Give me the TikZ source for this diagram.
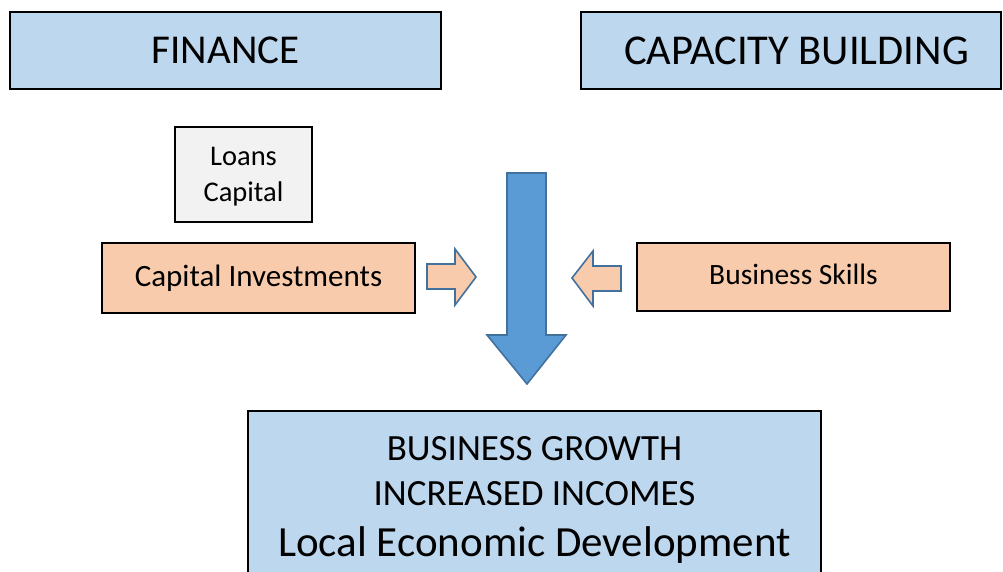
\documentclass[tikz,border=0pt]{standalone}
\usepackage{fontspec}
\setmainfont{Carlito}
\definecolor{boxblue}{HTML}{BDD7EE}
\definecolor{boxorange}{HTML}{F8CBAD}
\definecolor{boxgrey}{HTML}{F2F2F2}
\definecolor{arrowblue}{HTML}{5B9BD5}
\definecolor{arrowedge}{HTML}{41719C}
\tikzset{
  box/.style={draw=black, line width=1.6pt, rectangle, inner sep=0pt, align=center},
  bluebox/.style={box, fill=boxblue},
  orangebox/.style={box, fill=boxorange},
  greybox/.style={box, fill=boxgrey},
  blockarrow/.style={draw=arrowedge, line width=1.6pt, line join=miter},
}
\begin{document}
\begin{tikzpicture}[x=1pt,y=-1pt]
\useasboundingbox (0,0) rectangle (1003,572);
\node[bluebox, minimum width=431pt, minimum height=77pt, font=\fontsize{41}{48}\selectfont] (finance) at (225.5,50.5) {FINANCE};
\node[bluebox, minimum width=420pt, minimum height=77pt, font=\fontsize{42.5}{48}\selectfont] (capacity) at (791,50.5) {\hspace*{11pt}CAPACITY BUILDING};
\node[greybox, minimum width=137pt, minimum height=95pt, text depth=0pt, font=\fontsize{28.5}{36}\selectfont] (loans) at (243.5,174.5) {Loans\\Capital};
\node[orangebox, minimum width=313pt, minimum height=70pt, font=\fontsize{31}{36}\selectfont] (capinv) at (258.5,278) {Capital Investments};
\node[orangebox, minimum width=313pt, minimum height=68pt, text depth=6pt, font=\fontsize{29.5}{36}\selectfont] (skills) at (793.5,277) {Business Skills};
\node[bluebox, minimum width=573pt, minimum height=178pt, font=\fontsize{37}{45}\selectfont] (growth) at (534.5,500)
  {BUSINESS GROWTH\\INCREASED INCOMES\\[6pt]{\fontsize{43}{48}\selectfont Local Economic Development}};
% big downward arrow
\draw[blockarrow, fill=arrowblue] (507,173) -- (546,173) -- (546,335) -- (566,335) -- (527,384) -- (487,335) -- (507,335) -- cycle;
% right-pointing arrow
\draw[blockarrow, fill=boxorange] (427,264) -- (455,264) -- (455,249) -- (476,277) -- (455,305) -- (455,289) -- (427,289) -- cycle;
% left-pointing arrow
\draw[blockarrow, fill=boxorange] (621,266) -- (593,266) -- (593,251) -- (572,278) -- (593,306) -- (593,291) -- (621,291) -- cycle;
\end{tikzpicture}
\end{document}
